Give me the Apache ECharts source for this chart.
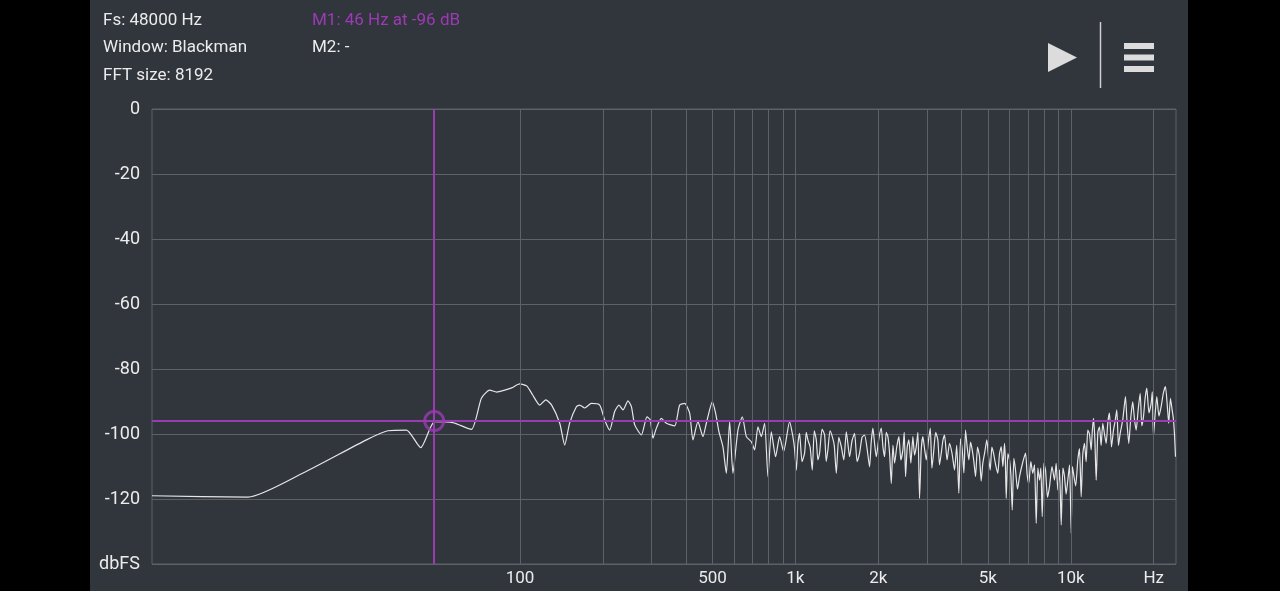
<!DOCTYPE html>
<html>
<head>
<meta charset="utf-8">
<script src="https://cdn.jsdelivr.net/npm/echarts@6/dist/echarts.min.js"></script>
<style>
html,body{margin:0;padding:0;background:#000;width:1280px;height:591px;overflow:hidden;}
#chart{position:absolute;left:90px;top:0;width:1098px;height:591px;}
</style>
</head>
<body>
<div id="chart"></div>
<script>
// ---- data: [frequency Hz, level dBFS] ----
const lowBand = [[4.61,-119.0],[10.3,-119.4],[16.3,-112.0],[27.7,-101.8],[33.1,-99.0],[38.7,-98.8],[43.6,-104.2],[49.0,-96.2],[57.0,-96.5],[66.6,-98.6],[72.4,-89.0],[77.6,-86.5],[82.3,-87.1],[88.0,-86.5],[93.3,-85.8],[99.7,-84.6],[105.8,-85.2],[111.2,-88.0],[117.9,-91.1],[124.0,-89.5],[130.3,-91.1],[139.4,-96.7],[145.3,-103.4],[151.5,-96.6],[160.2,-91.6],[164.7,-91.1],[171.8,-92.0],[181.6,-90.6],[194.7,-91.1],[203.0,-95.7],[211.6,-98.8],[220.7,-93.1],[228.8,-91.1],[236.6,-92.6],[246.6,-89.8],[253.8,-91.6],[260.9,-97.2],[275.9,-100.3],[289.1,-94.7],[297.4,-95.7],[304.0,-101.3],[312.7,-98.2],[326.1,-95.2],[340.0,-96.7],[364.4,-97.5],[379.9,-91.1],[396.1,-90.6],[413.0,-93.6],[424.6,-101.8],[442.7,-96.2],[461.6,-100.8],[474.9,-96.7],[499.3,-90.1],[513.2,-93.6],[527.6,-99.3],[545.5,-103.9],[561.3,-112.1],[577.1,-96.2],[593.2,-112.1],[618.5,-98.8],[641.7,-94.7],[663.5,-100.8],[691.8,-102.4],[711.2,-104.9],[731.1,-97.8],[752.1,-100.8],[773.1,-96.7],[794.8,-113.1],[817.6,-99.3],[847.5,-107.0],[876.3,-100.8],[906.3,-105.4],[952.7,-96.2]];
const midBand = [[979.3,-100.8],[993,-104.5],[1007.6,-111.1],[1021,-103.0],[1035.6,-99.8],[1057,-108.5],[1079.9,-105.9],[1095,-99.5],[1110.1,-101.8],[1131,-104.0],[1151.5,-111.1],[1171,-99.0],[1190.9,-101.8],[1207,-108.0],[1224.0,-105.9],[1250,-98.5],[1276.4,-100.3],[1294,-108.5],[1312.2,-104.9],[1336,-99.0],[1361.2,-100.8],[1384,-103.5],[1407.7,-112.1],[1437,-101.0],[1467.7,-103.9],[1499,-108.0],[1530.5,-99.3],[1551,-103.0],[1573.0,-107.0],[1606,-102.0],[1640.3,-99.8],[1675,-108.5],[1710.0,-105.9],[1746,-101.0],[1783.2,-100.3],[1821,-104.5],[1859.2,-110.1],[1885,-102.5],[1911.3,-98.2],[1939,-103.0],[1966.7,-107.0],[2008,-101.5],[2050.5,-98.2],[2079,-104.0],[2107.9,-107.0],[2137,-99.5],[2167.0,-100.8],[2198,-106.0],[2229.3,-115.2],[2260,-103.5],[2291.7,-109.0],[2333,-104.0],[2375.5,-100.8],[2415,-108.0],[2456.2,-104.9],[2484,-99.5],[2512.0,-113.1],[2547,-104.0],[2582.3,-101.8],[2626,-109.0],[2670.0,-100.8],[2708,-106.5],[2746.7,-103.9],[2785,-99.5],[2823.7,-119.8],[2863,-105.0],[2902.8,-100.8],[2944,-104.5],[2986.2,-108.0],[3037,-102.5],[3088.3,-98.2],[3131,-110.5],[3174.1,-105.9],[3232,-99.5],[3290.2,-101.8],[3337,-109.5],[3385.4,-105.9],[3432,-102.0],[3480.2,-100.3],[3554,-108.0],[3628.4,-102.9],[3705,-106.0],[3783.5,-111.1],[3852,-103.5],[3921.8,-118.2],[3978,-101.5],[4034.5,-104.9],[4091,-112.0],[4147.5,-98.8],[4205,-104.0],[4263.7,-108.0],[4325,-102.5],[4386.2,-104.9],[4447,-108.5],[4509.1,-113.1],[4585,-104.0],[4662.2,-107.0],[4727,-114.5],[4792.8,-109.0],[4873,-105.5],[4955.5,-101.8]];
const dipBand = [[5026,-107.0],[5097.9,-111.1],[5169,-104.0],[5240.7,-105.9],[5336,-109.5],[5432.5,-112.1],[5511,-106.0],[5589.8,-103.9],[5667,-110.0],[5745.1,-102.9],[5786,-108.0],[5827.7,-119.8],[5909,-106.0],[5991.0,-108.0],[6059,-112.5],[6127.7,-123.4],[6213,-107.5],[6299.4,-111.1],[6405,-117.0],[6513.3,-113.1],[6679,-109.0],[6848.6,-105.9],[6943,-112.5],[7038.9,-115.2],[7158,-108.5],[7279.5,-112.1],[7383,-109.5],[7488.6,-127.5],[7592,-110.5],[7698.4,-114.2],[7786,-110.5],[7874.1,-125.4],[7984,-109.0],[8094.7,-111.1],[8231,-119.5],[8369.5,-116.2],[8546,-110.0],[8726.1,-114.2],[8848,-109.0],[8970.6,-117.2],[9100,-111.0],[9230.4,-128.0],[9358,-110.5],[9487.0,-113.1],[9619,-118.5],[9752.7,-114.2],[9893,-109.5],[10035,-130.6],[10131,-110.0],[10228,-112.1]];
const highBand = [[10414,-116.0],[10603,-108.0],[10754,-104.5],[10906,-119.3],[11058,-106.0],[11212,-102.9],[11368,-108.5],[11526,-98.8],[11690,-100.0],[11857,-104.9],[11972,-99.0],[12089,-95.2],[12226,-101.5],[12365,-114.2],[12537,-99.5],[12711,-97.8],[12887,-103.5],[13066,-96.7],[13252,-100.0],[13441,-102.9],[13628,-96.5],[13818,-93.6],[14052,-104.0],[14289,-98.8],[14487,-96.0],[14689,-92.6],[14899,-103.5],[15112,-99.8],[15450,-95.5],[15795,-88.5],[16015,-97.0],[16238,-102.9],[16510,-95.0],[16788,-90.1],[17030,-95.5],[17275,-98.8],[17566,-92.5],[17862,-87.5],[18110,-97.5],[18362,-94.7],[18616,-89.0],[18875,-85.9],[19223,-93.5],[19577,-90.6],[19767,-87.0],[19960,-100.8],[20238,-94.0],[20519,-88.5],[20898,-94.5],[21285,-91.6],[21671,-87.5],[22064,-85.4],[22371,-90.5],[22682,-96.7],[23006,-89.0],[23333,-92.6],[23560,-95.0],[23789,-99.8],[24000,-107.0]];

const gridFreqs = [100,200,300,400,500,600,700,800,900,1000,2000,3000,4000,5000,6000,7000,8000,9000,10000,20000];
const xTickFreqs = [100,500,1000,2000,5000,10000,20000];
const xTickLabels = ['100','500','1k','2k','5k','10k','Hz'];
const yUnitLabel = 'dbFS';

const markerFreq = 48.8;
const markerDb = -96;

const infoLines = ['Fs: 48000 Hz','Window: Blackman','FFT size: 8192'];
const markerLines = ['M1: 46 Hz at -96 dB','M2: -'];

// ---- chart ----
const PANEL = '#31353c';
const GRID = '#5d6168';
const TEXT = '#ececec';
const MAG = '#9b3bb4';
const FONT = 'Roboto, "Noto Sans", sans-serif';

const chart = echarts.init(document.getElementById('chart'), null, {renderer:'canvas'});

const lineData = lowBand.concat(midBand, dipBand, highBand);

const gridLineData = gridFreqs.map(f=>{
  const k = xTickFreqs.indexOf(f);
  return {
    xAxis: f,
    label: k>=0 ? {show:true, position:'start', formatter: xTickLabels[k], color:TEXT, fontSize:17, fontFamily:FONT, distance:6} : {show:false}
  };
});

const graphics = [];
infoLines.forEach((t,i)=>graphics.push({type:'text', left:13, top:12+i*27.5, style:{text:t, fill:TEXT, fontSize:17, fontFamily:FONT}}));
markerLines.forEach((t,i)=>graphics.push({type:'text', left:222, top:12+i*27.5, style:{text:t, fill:i===0?MAG:TEXT, fontSize:17, fontFamily:FONT}}));
// play icon, divider, menu icon
graphics.push({type:'polygon', shape:{points:[[958,43],[958,72],[987,57.5]]}, style:{fill:'#dcdcdc'}});
graphics.push({type:'line', shape:{x1:1010.5,y1:22,x2:1010.5,y2:88}, style:{stroke:'#cfcfcf', lineWidth:1.5}});
graphics.push({type:'rect', shape:{x:1034,y:43,width:30,height:6}, style:{fill:'#dcdcdc'}});
graphics.push({type:'rect', shape:{x:1034,y:54.5,width:30,height:6}, style:{fill:'#dcdcdc'}});
graphics.push({type:'rect', shape:{x:1034,y:66,width:30,height:6}, style:{fill:'#dcdcdc'}});

chart.setOption({
  backgroundColor: PANEL,
  animation: false,
  grid: {left:62, top:109, width:1024, height:455, show:true, borderColor:GRID, borderWidth:1, backgroundColor:'transparent'},
  xAxis: {
    type:'log', logBase:10, min:4.61, max:24100,
    axisLine:{show:false}, axisTick:{show:false}, axisLabel:{show:false}, splitLine:{show:false}, minorSplitLine:{show:false}
  },
  yAxis: {
    type:'value', min:-140, max:0, interval:20,
    axisLine:{show:false}, axisTick:{show:false},
    splitLine:{show:true, lineStyle:{color:GRID, width:1}},
    axisLabel:{color:TEXT, fontSize:18, fontFamily:FONT, margin:12, padding:[0,0,5,0], formatter:v=> v===-140 ? yUnitLabel : String(v)}
  },
  graphic: graphics,
  series: [
    {
      type:'line', data:[], silent:true, z:1,
      markLine:{silent:true, symbol:['none','none'], lineStyle:{color:GRID, width:1, type:'solid'}, data:gridLineData, animation:false}
    },
    {
      type:'line', data:lineData, showSymbol:false, smooth:0.2, z:3,
      lineStyle:{color:'#e6e6e6', width:1.2}
    },
    {
      type:'scatter', data:[[markerFreq, markerDb]], symbol:'circle', symbolSize:19, z:5,
      itemStyle:{color:'rgba(0,0,0,0)', borderColor:MAG, borderWidth:3},
      markLine:{silent:true, symbol:['none','none'], label:{show:false}, lineStyle:{color:MAG, width:2, type:'solid'},
        data:[{xAxis:markerFreq},{yAxis:markerDb}], animation:false}
    }
  ]
});
</script>
</body>
</html>
